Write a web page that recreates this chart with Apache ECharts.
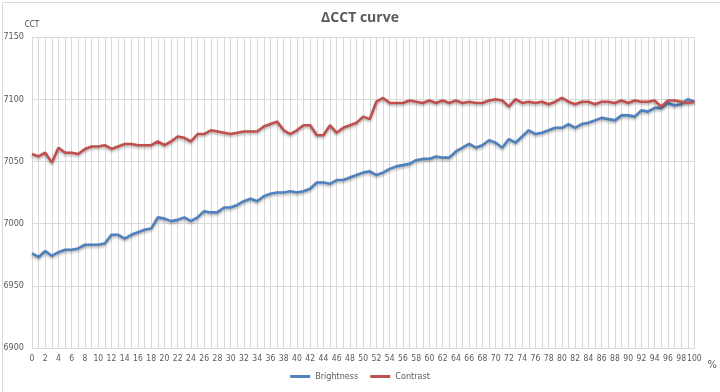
<!DOCTYPE html>
<html>
<head>
<meta charset="utf-8">
<script src="https://cdn.jsdelivr.net/npm/echarts@6/dist/echarts.min.js"></script>
<style>html,body{margin:0;padding:0;background:#fff}#c{width:720px;height:392px}</style>
</head>
<body>
<div id="c"></div>
<script>
const categories = Array.from({length: 101}, (_, i) => String(i));
const brightness = [
6976,6973,6978,6974,6977,6979,6979,6980,6983,6983,
6983,6984,6991,6991,6988,6991,6993,6995,6996,7005,
7004,7002,7003,7005,7002,7005,7010,7009,7009,7013,
7013,7015,7018,7020,7018,7022,7024,7025,7025,7026,
7025,7026,7028,7033,7033,7032,7035,7035,7037,7039,
7041,7042,7039,7041,7044,7046,7047,7048,7051,7052,
7052,7054,7053,7053,7058,7061,7064,7061,7063,7067,
7065,7061,7068,7065,7070,7075,7072,7073,7075,7077,
7077,7080,7077,7080,7081,7083,7085,7084,7083,7087,
7087,7086,7091,7090,7093,7093,7097,7095,7096,7100,7098
];
const contrast = [
7056,7054,7057,7049,7061,7057,7057,7056,7060,7062,
7062,7063,7060,7062,7064,7064,7063,7063,7063,7066,
7063,7066,7070,7069,7066,7072,7072,7075,7074,7073,
7072,7073,7074,7074,7074,7078,7080,7082,7075,7072,
7075,7079,7079,7071,7071,7079,7073,7077,7079,7081,
7086,7084,7098,7101,7097,7097,7097,7099,7098,7097,
7099,7097,7099,7097,7099,7097,7098,7097,7097,7099,
7100,7099,7094,7100,7097,7098,7097,7098,7096,7098,
7101,7098,7096,7098,7098,7096,7098,7098,7097,7099,
7097,7099,7098,7098,7099,7094,7099,7099,7098,7097,7098
];
const yTicks = [6900, 6950, 7000, 7050, 7100, 7150];

const FONT = '"DejaVu Sans Condensed", "Liberation Sans", sans-serif';
const TFONT = '"Open Sans", "Noto Sans", sans-serif';
const TXT = '#595959';
const GRID = '#d9d9d9';
const chart = echarts.init(document.getElementById('c'), null, {renderer: 'canvas'});
const lineSeries = (name, data, color) => ({
  name, type: 'line', data, showSymbol: false, symbol: 'none', smooth: false,
  lineStyle: {color, width: 2.6, shadowColor: 'rgba(0,0,0,0.35)', shadowBlur: 3, shadowOffsetY: 1.5},
  itemStyle: {color}, animation: false
});
chart.setOption({
  animation: false,
  backgroundColor: '#fff',
  title: {
    text: 'ΔCCT curve', left: 'center', top: 6,
    textStyle: {fontFamily: TFONT, fontSize: 14, fontWeight: 'bold', color: TXT}
  },
  legend: {
    bottom: 6, left: 'center', itemWidth: 20, itemHeight: 3, itemGap: 12,
    icon: 'rect',
    textStyle: {fontFamily: FONT, fontSize: 9, color: TXT},
    data: ['Brightness', 'Contrast']
  },
  grid: {left: 32, right: 17, top: 37, bottom: 44, containLabel: false},
  xAxis: {
    type: 'category', data: categories, boundaryGap: false,
    name: '%', nameLocation: 'end', nameGap: 4,
    nameTextStyle: {fontFamily: FONT, fontSize: 11, color: TXT, verticalAlign: 'top', padding: [12, 0, 0, 0]},
    axisLine: {show: true, lineStyle: {color: GRID}},
    axisTick: {show: false},
    axisLabel: {interval: 1, fontFamily: FONT, fontSize: 8.5, color: TXT, margin: 6,
      hideOverlap: false, showMaxLabel: true, showMinLabel: true},
    splitLine: {show: true, interval: 0, lineStyle: {color: GRID, width: 1}}
  },
  yAxis: {
    type: 'value', min: 6900, max: 7150, interval: 50,
    name: 'CCT', nameLocation: 'end', nameGap: 8,
    nameTextStyle: {fontFamily: FONT, fontSize: 8, color: '#404040', align: 'center'},
    axisLine: {show: false}, axisTick: {show: false},
    axisLabel: {fontFamily: FONT, fontSize: 9, color: TXT, margin: 8,
      formatter: v => yTicks.includes(v) ? String(v) : ''},
    splitLine: {show: true, lineStyle: {color: GRID, width: 1}}
  },
  graphic: [{
    type: 'rect', left: 0, top: 0, z: -1,
    shape: {x: 0.5, y: 0.5, width: 719, height: 391},
    style: {fill: 'none', stroke: '#d9d9d9', lineWidth: 1}
  }],
  series: [
    lineSeries('Brightness', brightness, '#4f81bd'),
    lineSeries('Contrast', contrast, '#c0504d')
  ]
});
</script>
</body>
</html>
